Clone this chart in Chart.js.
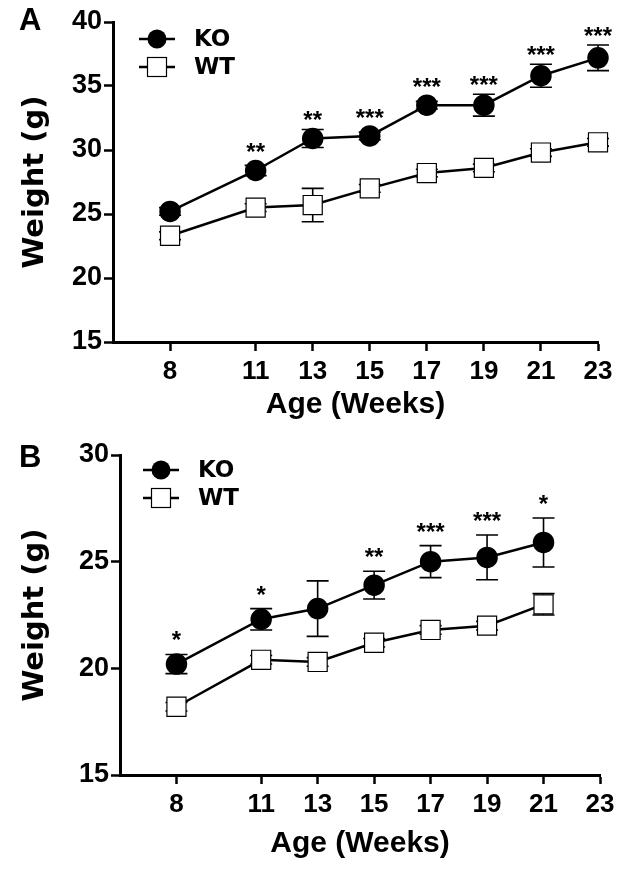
<!DOCTYPE html>
<html>
<head>
<meta charset="utf-8">
<script src="https://cdn.jsdelivr.net/npm/chart.js@4.4.0/dist/chart.umd.min.js"></script>
<style>
  body { margin: 0; background: #fff; width: 630px; height: 872px; overflow: hidden; }
  .panel { position: absolute; left: 0; width: 630px; }
</style>
</head>
<body>
<div class="panel" style="top:0;height:435px"><canvas id="chartA"></canvas></div>
<div class="panel" style="top:435px;height:437px"><canvas id="chartB"></canvas></div>
<script>
// Panel A
const weeksA = [8, 11, 13, 15, 17, 19, 21, 23];
const koA = [25.2, 28.4, 30.9, 31.1, 33.5, 33.5, 35.8, 37.2];
const koErrA = [0.3, 0.4, 0.7, 0.3, 0.3, 0.85, 0.9, 1.0];
const wtA = [23.3, 25.5, 25.7, 27.0, 28.2, 28.6, 29.8, 30.6];
const wtErrA = [0.3, 0.3, 1.3, 0.3, 0.3, 0.3, 0.3, 0.3];
const starsA = ['', '**', '**', '***', '***', '***', '***', '***'];

// Panel B
const weeksB = [8, 11, 13, 15, 17, 19, 21];
const koB = [20.2, 22.3, 22.8, 23.9, 25.0, 25.2, 25.9];
const koErrB = [0.45, 0.5, 1.3, 0.65, 0.75, 1.05, 1.15];
const wtB = [18.2, 20.4, 20.3, 21.2, 21.8, 22.0, 23.0];
const wtErrB = [0.2, 0.2, 0.2, 0.2, 0.2, 0.2, 0.5];
const starsB = ['*', '*', '', '**', '***', '***', '*'];

const xTicks = [8, 11, 13, 15, 17, 19, 21, 23];
const yTicksA = [15, 20, 25, 30, 35, 40];
const yTicksB = [15, 20, 25, 30];

const ARIAL = "'Liberation Sans', Arial, sans-serif";
const WIDE = "'DejaVu Sans', Verdana, sans-serif";

// error bars, significance stars, legend and panel letter
const extras = {
    id: 'extras',
    beforeDatasetsDraw(chart, args, opts) {
        const ctx = chart.ctx, xs = chart.scales.x, ys = chart.scales.y;
        ctx.save();
        ctx.strokeStyle = '#000';
        ctx.lineWidth = 1.6;
        opts.errors.forEach((errs, d) => {
            chart.data.datasets[d].data.forEach((p, i) => {
                const px = xs.getPixelForValue(p.x);
                const top = ys.getPixelForValue(p.y + errs[i]);
                const bot = ys.getPixelForValue(p.y - errs[i]);
                ctx.beginPath();
                ctx.moveTo(px, top); ctx.lineTo(px, bot);
                ctx.moveTo(px - 11, top); ctx.lineTo(px + 11, top);
                ctx.moveTo(px - 11, bot); ctx.lineTo(px + 11, bot);
                ctx.stroke();
            });
        });
        ctx.restore();
    },
    afterDatasetsDraw(chart, args, opts) {
        const ctx = chart.ctx, xs = chart.scales.x, ys = chart.scales.y;
        ctx.save();
        // stars above KO points
        ctx.fillStyle = '#000';
        ctx.font = 'bold 24px ' + ARIAL;
        ctx.textAlign = 'center';
        ctx.textBaseline = 'alphabetic';
        const ko = chart.data.datasets[0].data;
        opts.stars.forEach((s, i) => {
            if (!s) return;
            const px = xs.getPixelForValue(ko[i].x);
            const errTop = ys.getPixelForValue(ko[i].y + opts.errors[0][i]);
            const py = Math.min(errTop - opts.starGap, ys.getPixelForValue(ko[i].y) - 24);
            ctx.fillText(s, px, py + 14);
        });
        // legend
        const lx = opts.legendX, ly = opts.legendY;
        ctx.strokeStyle = '#000';
        ctx.lineWidth = 2.5;
        [0, 1].forEach(k => {
            const yy = ly + k * 28;
            ctx.beginPath();
            ctx.moveTo(lx - 18, yy); ctx.lineTo(lx + 18, yy);
            ctx.stroke();
            if (k === 0) {
                ctx.beginPath();
                ctx.arc(lx, yy, 9.5, 0, Math.PI * 2);
                ctx.fill();
            } else {
                ctx.fillStyle = '#fff';
                ctx.fillRect(lx - 9.5, yy - 9.5, 19, 19);
                ctx.lineWidth = 1.2;
                ctx.strokeRect(lx - 9.5, yy - 9.5, 19, 19);
                ctx.fillStyle = '#000';
            }
        });
        ctx.font = 'bold 23px ' + WIDE;
        ctx.textAlign = 'left';
        ctx.textBaseline = 'middle';
        ctx.fillText('KO', lx + 37, ly + 1);
        ctx.fillText('WT', lx + 37, ly + 29);
        // panel letter
        ctx.font = 'bold 31px ' + ARIAL;
        ctx.fillText(opts.letter, 19, opts.letterY);
        ctx.restore();
    }
};

function makeChart(id, cfg) {
    return new Chart(document.getElementById(id), {
        type: 'line',
        data: {
            datasets: [{
                label: 'KO',
                data: cfg.weeks.map((w, i) => ({ x: w, y: cfg.ko[i] })),
                borderColor: '#000',
                borderWidth: 2.5,
                pointStyle: 'circle',
                pointRadius: 9.5,
                pointBackgroundColor: '#000',
                pointBorderColor: '#000',
                tension: 0,
                clip: false
            }, {
                label: 'WT',
                data: cfg.weeks.map((w, i) => ({ x: w, y: cfg.wt[i] })),
                borderColor: '#000',
                borderWidth: 2.5,
                pointStyle: 'rect',
                pointRadius: 13.5,
                pointBackgroundColor: '#fff',
                pointBorderColor: '#000',
                pointBorderWidth: 1.2,
                tension: 0,
                clip: false
            }]
        },
        options: {
            responsive: true,
            maintainAspectRatio: false,
            animation: false,
            layout: { padding: { top: cfg.padTop, right: cfg.padRight, left: 0, bottom: 0 } },
            plugins: {
                legend: { display: false },
                tooltip: { enabled: false },
                extras: {
                    errors: [cfg.koErr, cfg.wtErr],
                    stars: cfg.stars,
                    starGap: cfg.starGap,
                    legendX: cfg.legendX,
                    legendY: cfg.legendY,
                    letter: cfg.letter,
                    letterY: cfg.letterY
                }
            },
            scales: {
                x: {
                    type: 'linear',
                    min: 6,
                    max: 23,
                    afterBuildTicks: s => { s.ticks = xTicks.map(v => ({ value: v })); },
                    afterFit: s => { s.height = cfg.xH; },
                    grid: { drawOnChartArea: false, drawTicks: true, tickLength: 9, tickWidth: 2.5, color: '#000' },
                    border: { color: '#000', width: 3 },
                    ticks: { color: '#000', font: { family: ARIAL, size: 26, weight: 'bold' }, padding: 5, autoSkip: false, maxRotation: 0 },
                    title: {
                        display: true, text: 'Age (Weeks)', color: '#000',
                        font: { family: ARIAL, size: 30, weight: 'bold' },
                        padding: { top: 0, bottom: cfg.xTitlePad }
                    }
                },
                y: {
                    min: cfg.yTicks[0],
                    max: cfg.yTicks[cfg.yTicks.length - 1],
                    afterBuildTicks: s => { s.ticks = cfg.yTicks.map(v => ({ value: v })); },
                    afterFit: s => { s.width = cfg.yW; },
                    grid: { drawOnChartArea: false, drawTicks: true, tickLength: 9, tickWidth: 2.5, color: '#000' },
                    border: { color: '#000', width: 3 },
                    ticks: { color: '#000', font: { family: ARIAL, size: 27, weight: 'bold' }, padding: 2 },
                    title: {
                        display: true, text: 'Weight (g)', color: '#000',
                        font: { family: WIDE, size: 29, weight: 'bold' },
                        padding: { top: 18, bottom: 0 }
                    }
                }
            }
        },
        plugins: [extras]
    });
}

makeChart('chartA', {
    weeks: weeksA, ko: koA, koErr: koErrA, wt: wtA, wtErr: wtErrA, stars: starsA,
    yTicks: yTicksA, padTop: 22, padRight: 32, xH: 93, yW: 113, xTitlePad: 12,
    starGap: 15, legendX: 157, legendY: 39, letter: 'A', letterY: 21
});
makeChart('chartB', {
    weeks: weeksB, ko: koB, koErr: koErrB, wt: wtB, wtErr: wtErrB, stars: starsB,
    yTicks: yTicksB, padTop: 20, padRight: 30, xH: 97, yW: 120, xTitlePad: 10,
    starGap: 20, legendX: 161, legendY: 35, letter: 'B', letterY: 23
});
</script>
</body>
</html>
